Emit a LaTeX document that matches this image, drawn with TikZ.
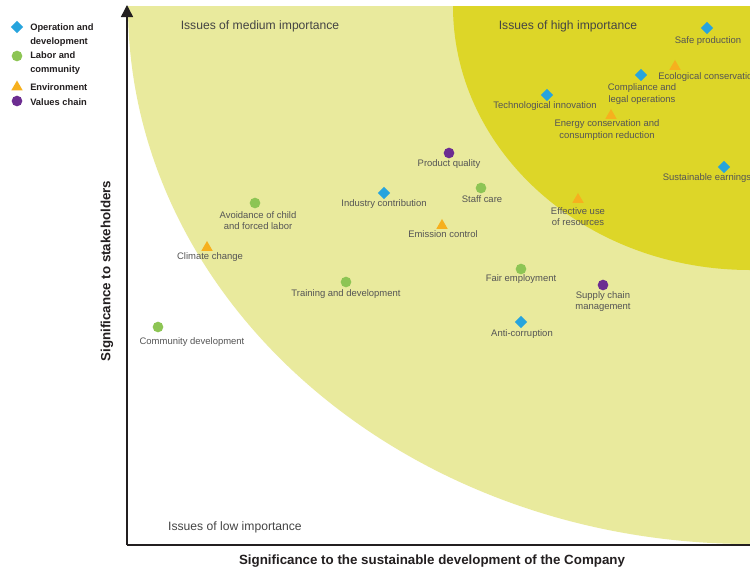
\documentclass[tikz,border=0pt]{standalone}
\usepackage{fontspec}
\setmainfont{Liberation Sans}
\usetikzlibrary{shapes.geometric,arrows.meta}
\definecolor{opblue}{HTML}{27A4DD}
\definecolor{labgreen}{HTML}{8DC554}
\definecolor{envorange}{HTML}{F6B01E}
\definecolor{valpurple}{HTML}{6C2D91}
\definecolor{paleyellow}{HTML}{E9EA9D}
\definecolor{darkyellow}{HTML}{DDD628}
\definecolor{labelgray}{HTML}{555555}
\definecolor{titlegray}{HTML}{444444}
\definecolor{axisblack}{HTML}{231F20}
\begin{document}
\begin{tikzpicture}[x=0.75pt,y=-0.75pt,
  lbl/.style={text=labelgray,font=\fontsize{7.1}{8.4}\selectfont,align=center,inner sep=0pt},
  ttl/.style={text=titlegray,font=\fontsize{9.1}{11}\selectfont,inner sep=0pt},
  axlbl/.style={text=axisblack,font=\bfseries\fontsize{10}{12}\selectfont,inner sep=0pt},
  leg/.style={text=axisblack,font=\bfseries\fontsize{7}{10.5}\selectfont,align=left,inner sep=0pt,anchor=west},
  dia/.style={diamond,fill=opblue,inner sep=0pt,minimum width=9.5pt,minimum height=9.5pt},
  gdot/.style={circle,fill=labgreen,inner sep=0pt,minimum size=8pt},
  pdot/.style={circle,fill=valpurple,inner sep=0pt,minimum size=8pt},
  tri/.style={regular polygon,regular polygon sides=3,fill=envorange,inner sep=0pt,minimum size=9.8pt},
  axisline/.style={draw=axisblack,line width=1.1pt}
]
\clip (0,0) rectangle (750,572);
\fill[white] (0,0) rectangle (750,572);
% regions
\begin{scope}
  \clip (127,6) rectangle (750,545);
  \fill[paleyellow] (750,6) ellipse [x radius=466.5pt,y radius=403.5pt];
  \fill[darkyellow] (750,6) ellipse [x radius=222.75pt,y radius=198pt];
\end{scope}
% axes
\coordinate (origin) at (127,545);
\coordinate (ytop) at (127,5);
\coordinate (xend) at (750,545);
\draw[axisline] (origin) -- (xend);
\draw[axisline,-{Triangle[length=9pt,width=9pt]}] (origin) -- (ytop);
\node[axlbl] (xlabel) at (432,561) {Significance to the sustainable development of the Company};
\node[axlbl,rotate=90] (ylabel) at (107,271) {Significance to stakeholders};
% titles
\node[ttl] (tmed) at (260,26) {Issues of medium importance};
\node[ttl] (thigh) at (568,26) {Issues of high importance};
\node[ttl] (tlow) at (235,527) {Issues of low importance};
% legend
\node[dia] (legop) at (17,27) {};
\node[leg] (legoptxt) at (30,35) {Operation and\\development};
\node[gdot] (leglab) at (17,56) {};
\node[leg] (leglabtxt) at (30,63) {Labor and\\community};
\node[tri] (legenv) at (17,87) {};
\node[leg] (legenvtxt) at (30,87) {Environment};
\node[pdot] (legval) at (17,101) {};
\node[leg] (legvaltxt) at (30,102) {Values chain};
% data points
\node[dia] (safe) at (707,28) {};
\node[lbl] (safet) at (708,41) {Safe production};
\node[tri] (eco) at (675,66.5) {};
\node[lbl,anchor=west] (ecot) at (658,77) {Ecological conservation};
\node[dia] (comp) at (641,75) {};
\node[lbl] (compt) at (642,94) {Compliance and\\legal operations};
\node[dia] (tech) at (547,95) {};
\node[lbl] (techt) at (545,106) {Technological innovation};
\node[tri] (energy) at (611,115.5) {};
\node[lbl] (energyt) at (607,130) {Energy conservation and\\consumption reduction};
\node[dia] (sust) at (724,167) {};
\node[lbl] (sustt) at (707,178) {Sustainable earnings};
\node[pdot] (prod) at (449,153) {};
\node[lbl] (prodt) at (449,164) {Product quality};
\node[dia] (ind) at (384,193) {};
\node[lbl] (indt) at (384,204) {Industry contribution};
\node[gdot] (staff) at (481,188) {};
\node[lbl] (stafft) at (482,199) {Staff care};
\node[gdot] (avoid) at (255,203) {};
\node[lbl] (avoidt) at (258,221) {Avoidance of child\\and forced labor};
\node[tri] (emis) at (442,225.5) {};
\node[lbl] (emist) at (443,234) {Emission control};
\node[tri] (climate) at (207,247.5) {};
\node[lbl] (climatet) at (210,257) {Climate change};
\node[tri] (eff) at (578,199.5) {};
\node[lbl] (efft) at (578,216.5) {Effective use\\of resources};
\node[gdot] (fair) at (521,269) {};
\node[lbl] (fairt) at (521,279) {Fair employment};
\node[pdot] (supply) at (603,285) {};
\node[lbl] (supplyt) at (603,301.5) {Supply chain\\management};
\node[dia] (anti) at (521,322) {};
\node[lbl] (antit) at (522,334) {Anti-corruption};
\node[gdot] (train) at (346,282) {};
\node[lbl] (traint) at (346,294) {Training and development};
\node[gdot] (comm) at (158,327) {};
\node[lbl] (commt) at (192,342) {Community development};
\end{tikzpicture}
\end{document}
